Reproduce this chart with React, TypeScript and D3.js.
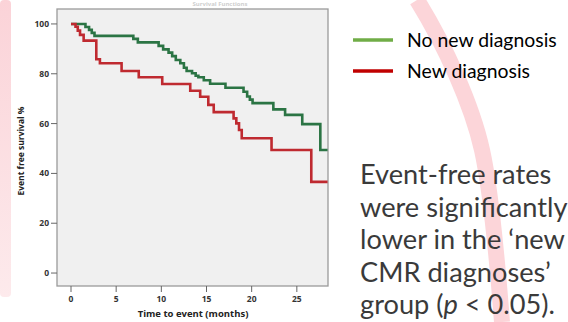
import React from "react";
import * as d3 from "d3";

const GREEN_T = [0, 1.6, 2.0, 2.3, 2.6, 6.9, 7.4, 9.7, 10.2, 10.8, 11.2, 11.6, 12.1, 12.5, 12.8, 13.4, 13.8, 14.1, 14.7, 15.4, 17.1, 19.1, 19.5, 19.8, 20.1, 22.4, 23.7, 25.6, 27.6, 28.4];
const GREEN_S = [100, 98.8, 97.6, 96.4, 95.2, 94.0, 92.6, 91.2, 89.8, 88.5, 87.1, 85.5, 84.2, 82.4, 81.1, 80.2, 79.2, 78.6, 77.4, 76.0, 74.4, 72.8, 70.9, 69.6, 68.2, 65.7, 63.5, 59.8, 49.4, 49.4];

const RED_T = [0, 0.5, 0.75, 1.0, 1.4, 2.8, 3.2, 5.6, 7.5, 10.1, 13.2, 14.3, 15.2, 15.8, 18.0, 18.3, 18.6, 18.9, 22.2, 26.6, 28.4];
const RED_S = [100, 98.9, 97.3, 95.6, 93.3, 85.8, 84.2, 81.1, 78.6, 75.9, 73.2, 70.8, 67.5, 64.6, 62.1, 60.1, 57.4, 54.1, 49.4, 36.6, 36.6];

const X_TICKS = [0, 5, 10, 15, 20, 25];
const Y_TICKS = [0, 20, 40, 60, 80, 100];

const LEGEND_LABELS = ["No new diagnosis", "New diagnosis"];
const LEGEND_COLORS = ["#70ad47", "#c00000"];
const CURVE_COLORS = ["#2b7444", "#bf2a30"];

const X_LABEL = "Time to event (months)";
const Y_LABEL = "Event free survival %";

export default function App() {
  const x = d3.scaleLinear().domain([-1.55, 28.45]).range([57, 328]);
  const y = d3.scaleLinear().domain([-5.2, 106]).range([286, 9]);

  const line = d3
    .line<[number, number]>()
    .x((d) => x(d[0]))
    .y((d) => y(d[1]))
    .curve(d3.curveStepAfter);

  const green: [number, number][] = GREEN_T.map((t, i) => [t, GREEN_S[i]]);
  const red: [number, number][] = RED_T.map((t, i) => [t, RED_S[i]]);

  const chartFont = "'Open Sans', 'DejaVu Sans', sans-serif";
  const slideFont = "Lato, 'Open Sans', sans-serif";
  const textColor = "#3a3a3a";

  const bigLines = [
    <tspan key="a">Event-free rates</tspan>,
    <tspan key="b">were significantly</tspan>,
    <tspan key="c">lower in the ‘new</tspan>,
    <tspan key="d">CMR diagnoses’</tspan>,
    <tspan key="e">
      group (<tspan fontStyle="italic">p</tspan> &lt; 0.05).
    </tspan>,
  ];

  return (
    <svg
      width={568}
      height={322}
      style={{ position: "absolute", left: 0, top: 0, background: "#ffffff" }}
    >
      <defs>
        <linearGradient id="bandFade" x1="0" y1="0" x2="0" y2="1">
          <stop offset="0" stopColor="#fbd3d8" />
          <stop offset="1" stopColor="#fdeaec" />
        </linearGradient>
      </defs>

      {/* decorative slide shapes */}
      <rect x={0} y={0} width={11} height={297} rx={4} fill="url(#bandFade)" />
      <path
        d="M417,0 C445,45 472,105 482,150 S498,270 502,322"
        fill="none"
        stroke="#fcd5d9"
        strokeWidth={16}
      />

      {/* faint title of the pasted chart */}
      <text
        x={220}
        y={6}
        textAnchor="middle"
        fontFamily={chartFont}
        fontSize={6}
        fontWeight={700}
        fill="#cfcfcf"
      >
        Survival Functions
      </text>

      {/* plot frame */}
      <rect x={57} y={9} width={271} height={277} fill="#f0f0f0" stroke="#9a9a9a" strokeWidth={1.3} />

      {/* y axis ticks */}
      {Y_TICKS.map((v) => (
        <g key={"y" + v}>
          <line x1={51} x2={57} y1={y(v)} y2={y(v)} stroke="#666" strokeWidth={1} />
          <text
            x={49}
            y={y(v)}
            dy="0.35em"
            textAnchor="end"
            fontFamily={chartFont}
            fontSize={8.5}
            fontWeight={700}
            fill="#333"
          >
            {v}
          </text>
        </g>
      ))}

      {/* x axis ticks */}
      {X_TICKS.map((v) => (
        <g key={"x" + v}>
          <line x1={x(v)} x2={x(v)} y1={286} y2={292} stroke="#666" strokeWidth={1} />
          <text
            x={x(v)}
            y={302}
            textAnchor="middle"
            fontFamily={chartFont}
            fontSize={8.5}
            fontWeight={700}
            fill="#333"
          >
            {v}
          </text>
        </g>
      ))}

      {/* axis labels */}
      <text
        x={193}
        y={317}
        textAnchor="middle"
        fontFamily={chartFont}
        fontSize={9.5}
        fontWeight={700}
        fill="#222"
      >
        {X_LABEL}
      </text>
      <text
        transform="translate(24,151) rotate(-90)"
        textAnchor="middle"
        fontFamily={chartFont}
        fontSize={8.5}
        fontWeight={700}
        fill="#222"
      >
        {Y_LABEL}
      </text>

      {/* curves */}
      <path d={line(green) || ""} fill="none" stroke={CURVE_COLORS[0]} strokeWidth={2.6} />
      <path d={line(red) || ""} fill="none" stroke={CURVE_COLORS[1]} strokeWidth={2.6} />

      {/* legend */}
      {LEGEND_LABELS.map((lab, i) => (
        <g key={lab}>
          <line
            x1={353}
            x2={393}
            y1={40 + i * 31}
            y2={40 + i * 31}
            stroke={LEGEND_COLORS[i]}
            strokeWidth={3.5}
          />
          <text
            x={407}
            y={47 + i * 31}
            fontFamily={slideFont}
            fontSize={19.4}
            fill="#000"
          >
            {lab}
          </text>
        </g>
      ))}

      {/* slide text */}
      <text fontFamily={slideFont} fontSize={27.2} fill={textColor}>
        {bigLines.map((l, i) => (
          <tspan key={i} x={360} y={184 + i * 32.5}>
            {l}
          </tspan>
        ))}
      </text>
    </svg>
  );
}
